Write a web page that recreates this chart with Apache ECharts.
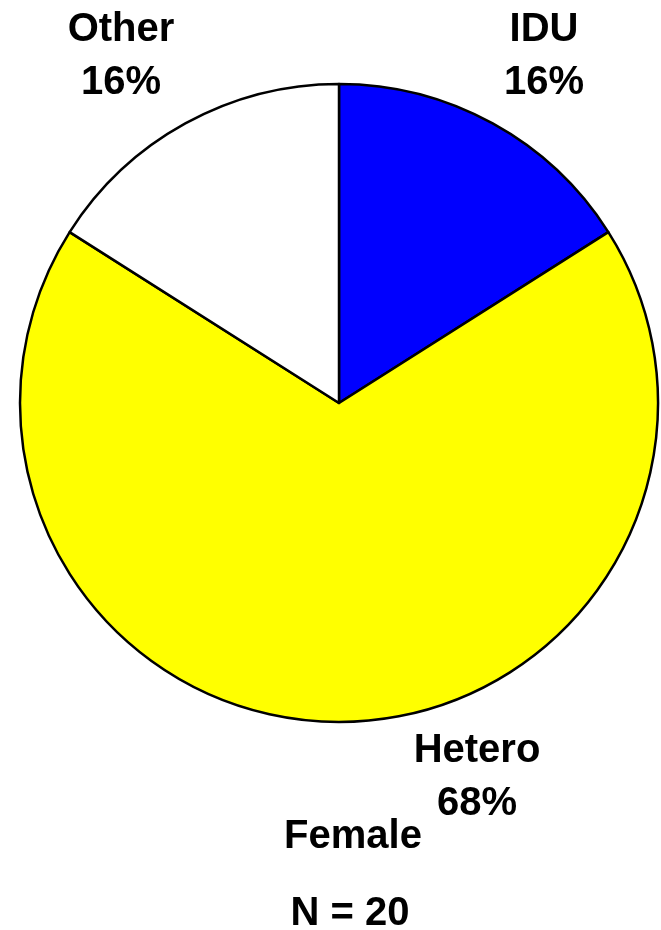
<!DOCTYPE html>
<html>
<head>
<meta charset="utf-8">
<style>
  html, body { margin: 0; padding: 0; background: #fff; }
  #chart { width: 661px; height: 930px; }
</style>
<script src="https://cdn.jsdelivr.net/npm/echarts@6/dist/echarts.min.js"></script>
</head>
<body>
<div id="chart"></div>
<script>
// transmission category shares (%), clockwise from 12 o'clock
const categories = ['IDU', 'Hetero', 'Other']
const shares = [16, 68, 16]
const sliceColors = ['#0000ff', '#ffff00', '#ffffff']
const groupLabel = 'Female'
const countLabel = 'N = 20'

// where each slice label block sits (centre of the two lines)
const labelSpots = [[544, 56], [477, 777], [121, 56]]

const font = '"Liberation Sans", Arial, sans-serif'

const chart = echarts.init(document.getElementById('chart'))
chart.setOption({
    animation: false,
    graphic: [
        {
            type: 'text', x: 353, y: 837,
            style: {
                text: groupLabel, font: 'bold 40px ' + font, fill: '#000',
                textAlign: 'center', textVerticalAlign: 'middle'
            }
        },
        {
            type: 'text', x: 350, y: 914,
            style: {
                text: countLabel, font: 'bold 40px ' + font, fill: '#000',
                textAlign: 'center', textVerticalAlign: 'middle'
            }
        }
    ],
    series: [{
        type: 'pie',
        center: [339, 403],
        radius: [0, 319],
        startAngle: 90,
        clockwise: true,
        silent: true,
        itemStyle: {
            borderColor: '#000',
            borderWidth: 2.5
        },
        label: {
            show: true,
            position: 'outside',
            formatter: '{b}\n{d}%',
            fontFamily: font,
            fontWeight: 'bold',
            fontSize: 40,
            lineHeight: 53,
            color: '#000',
            align: 'center'
        },
        labelLine: { show: false },
        labelLayout: function (params) {
            const p = labelSpots[params.dataIndex]
            return { x: p[0], y: p[1], align: 'center', verticalAlign: 'middle' }
        },
        data: categories.map((name, i) => ({
            name: name,
            value: shares[i],
            itemStyle: { color: sliceColors[i] }
        }))
    }]
})
</script>
</body>
</html>
